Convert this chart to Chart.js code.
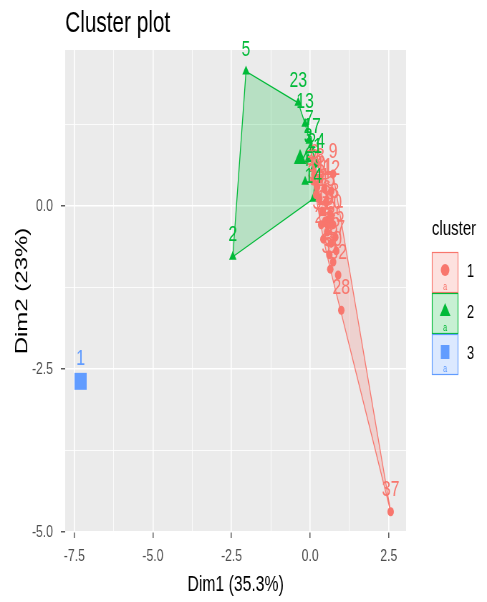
<!DOCTYPE html>
<html>
<head>
<meta charset="utf-8">
<script src="https://cdn.jsdelivr.net/npm/chart.js@4.4.1/dist/chart.umd.min.js"></script>
<style>
html,body{margin:0;padding:0;background:#fff;overflow:hidden}
</style>
</head>
<body>
<canvas id="c" width="680" height="602" style="width:487px;height:602px;display:block"></canvas>
<script>
// cluster 1 (red circles)
const c1Ids = [6, 8, 9, 10, 11, 12, 14, 15, 16, 18, 19, 20, 22, 25, 26, 27, 29, 30, 31, 32, 28, 33, 34, 35, 36, 37];
const c1X = [0.13, 0.32, 0.73, 0.22, 0.45, 0.67, 0.29, 0.51, 0.38, 0.64, 0.48, 0.73, 0.54, 0.42, 0.67, 0.83, 0.61, 0.73, 0.64, 0.89, 0.99, 0.19, 0.35, 0.80, 0.10, 2.56];
const c1Y = [0.48, 0.41, 0.49, 0.29, 0.26, 0.23, 0.11, 0.06, -0.08, -0.12, -0.23, -0.29, -0.40, -0.51, -0.57, -0.69, -0.75, -0.86, -0.97, -1.06, -1.60, 0.17, -0.29, -0.48, 0.38, -4.69];
// cluster 2 (green triangles)
const c2Ids = [5, 2, 23, 13, 7, 17, 3, 21, 24, 4, 14];
const c2X = [-2.04, -2.46, -0.38, -0.16, -0.03, 0.06, -0.06, 0.10, 0.19, -0.16, 0.10];
const c2Y = [2.06, -0.78, 1.58, 1.26, 1.00, 0.87, 0.72, 0.57, 0.64, 0.37, 0.11];
// cluster 3 (blue square)
const c3Ids = [1];
const c3X = [-7.30];
const c3Y = [-2.69];
// cluster centres
const centerX = [0.58, -0.32, -7.30];
const centerY = [-0.25, 0.72, -2.69];

const clusterNames = ["1", "2", "3"];
const xTicks = [-7.5, -5, -2.5, 0, 2.5];
const yTicks = [0, -2.5, -5];

const colors = ["#F8766D", "#00BA38", "#619CFF"];
const fills = ["rgba(248,118,109,0.22)", "rgba(0,186,56,0.22)", "rgba(97,156,255,0.22)"];
const FONT = "'Liberation Sans', Arial, sans-serif";

function convexHull(xs, ys){
  const p = xs.map((x,i)=>({x:x, y:ys[i]})).sort((a,b)=>a.x-b.x || a.y-b.y);
  const cross = (o,a,b)=>(a.x-o.x)*(b.y-o.y)-(a.y-o.y)*(b.x-o.x);
  const lo=[], up=[];
  for(const q of p){ while(lo.length>1 && cross(lo[lo.length-2],lo[lo.length-1],q)<=0) lo.pop(); lo.push(q); }
  for(const q of p.slice().reverse()){ while(up.length>1 && cross(up[up.length-2],up[up.length-1],q)<=0) up.pop(); up.push(q); }
  const h = lo.slice(0,-1).concat(up.slice(0,-1));
  h.push(h[0]);
  return h;
}
const pts = (xs, ys) => xs.map((x,i)=>({x:x, y:ys[i]}));
const isMajor = (v, list) => list.some(t => Math.abs(t - v) < 1e-6);

const panelBg = {
  id: "panelBg",
  beforeDraw(chart){
    const {ctx, chartArea:a} = chart;
    ctx.save();
    ctx.fillStyle = "#EBEBEB";
    ctx.fillRect(a.left, a.top, a.right-a.left, a.bottom-a.top);
    ctx.restore();
  }
};

const pointLabels = {
  id: "pointLabels",
  afterDatasetsDraw(chart){
    const {ctx, scales:{x, y}} = chart;
    const groups = [[c1Ids,c1X,c1Y],[c2Ids,c2X,c2Y],[c3Ids,c3X,c3Y]];
    ctx.save();
    ctx.font = "22px " + FONT;
    ctx.textAlign = "center";
    ctx.textBaseline = "middle";
    groups.forEach((g, k) => {
      ctx.fillStyle = colors[k];
      g[0].forEach((id, i) => {
        ctx.fillText(String(id), x.getPixelForValue(g[1][i]), y.getPixelForValue(g[2][i]) - 22);
      });
    });
    ctx.restore();
  }
};

const titleAndLegend = {
  id: "titleAndLegend",
  afterDraw(chart){
    const {ctx, chartArea:a} = chart;
    ctx.save();
    ctx.fillStyle = "#000";
    ctx.font = "29px " + FONT;
    ctx.textAlign = "left";
    ctx.textBaseline = "alphabetic";
    ctx.fillText("Cluster plot", a.left, 32);

    ctx.font = "21px " + FONT;
    ctx.textBaseline = "middle";
    ctx.fillText("cluster", 603, 229);

    const kx = 603, kw = 37, kh = 41, top0 = 252;
    clusterNames.forEach((name, k) => {
      const ty = top0 + k*kh;
      ctx.fillStyle = fills[k];
      ctx.fillRect(kx, ty, kw, kh);
      ctx.strokeStyle = colors[k];
      ctx.lineWidth = 1.2;
      ctx.strokeRect(kx+0.5, ty+0.5, kw-1, kh-1);
      const cx = kx + kw/2, cy = ty + 18;
      ctx.fillStyle = colors[k];
      ctx.beginPath();
      if(k === 0){ ctx.arc(cx, cy, 6, 0, Math.PI*2); }
      else if(k === 1){ ctx.moveTo(cx, cy-8); ctx.lineTo(cx+7.5, cy+5); ctx.lineTo(cx-7.5, cy+5); ctx.closePath(); }
      else { ctx.rect(cx-6, cy-7, 12, 14); }
      ctx.fill();
      ctx.font = "10px " + FONT;
      ctx.textAlign = "center";
      ctx.fillText("a", cx, ty + 35);
      ctx.fillStyle = "#000";
      ctx.font = "18px " + FONT;
      ctx.textAlign = "left";
      ctx.fillText(name, 652, ty + kh/2);
    });
    ctx.restore();
  }
};

function axis(majors, title, extra){
  return Object.assign({
    type: "linear",
    border: {display: false},
    grid: {
      color: "#FFFFFF",
      lineWidth: c => isMajor(c.tick.value, majors) ? 1.6 : 0.8,
      tickColor: c => isMajor(c.tick.value, majors) ? "#333333" : "rgba(0,0,0,0)",
      tickLength: 6,
      tickWidth: 1.2
    },
    ticks: {
      stepSize: 1.25,
      includeBounds: false,
      autoSkip: false,
      maxRotation: 0,
      color: "#4D4D4D",
      font: {family: FONT, size: 17},
      callback: v => isMajor(v, majors) ? v.toFixed(1) : ""
    },
    title: {display: true, text: title, color: "#000", font: {family: FONT, size: 22}}
  }, extra);
}

const xAxis = axis(xTicks, "Dim1 (35.3%)", {min: -7.79, max: 3.05, position: "bottom", afterFit: s => { s.height = 70; }});
xAxis.ticks.padding = 8;
xAxis.title.padding = {top: 0, bottom: 4};
const yAxis = axis(yTicks, "Dim2 (23%)", {min: -5.0, max: 2.39, position: "left", afterFit: s => { s.width = 91; }});
yAxis.ticks.padding = 11;
yAxis.title.padding = {top: 17, bottom: 0};
yAxis.title.font = {family: FONT, size: 24};

new Chart(document.getElementById("c"), {
  type: "scatter",
  data: {
    datasets: [
      {data: pts(c1X, c1Y), pointStyle: "circle", pointRadius: 4.5, backgroundColor: colors[0], borderWidth: 0},
      {data: pts(c2X, c2Y), pointStyle: "triangle", pointRadius: 6, backgroundColor: colors[1], borderWidth: 0},
      {data: pts(c3X, c3Y), pointStyle: "rect", pointRadius: 9, backgroundColor: colors[2], borderWidth: 0},
      {data: pts(centerX, centerY), pointStyle: ["circle", "triangle", "rect"], pointRadius: [7, 10, 12], backgroundColor: colors, borderWidth: 0},
      {data: convexHull(c1X, c1Y), showLine: true, fill: "shape", tension: 0, pointRadius: 0, backgroundColor: fills[0], borderColor: colors[0], borderWidth: 1.3},
      {data: convexHull(c2X, c2Y), showLine: true, fill: "shape", tension: 0, pointRadius: 0, backgroundColor: fills[1], borderColor: colors[1], borderWidth: 1.3}
    ]
  },
  options: {
    responsive: false,
    devicePixelRatio: 1,
    animation: false,
    events: [],
    layout: {padding: {top: 50, right: 113, left: 0, bottom: 0}},
    plugins: {legend: {display: false}, tooltip: {enabled: false}, title: {display: false}},
    scales: {x: xAxis, y: yAxis}
  },
  plugins: [panelBg, pointLabels, titleAndLegend]
});
</script>
</body>
</html>
